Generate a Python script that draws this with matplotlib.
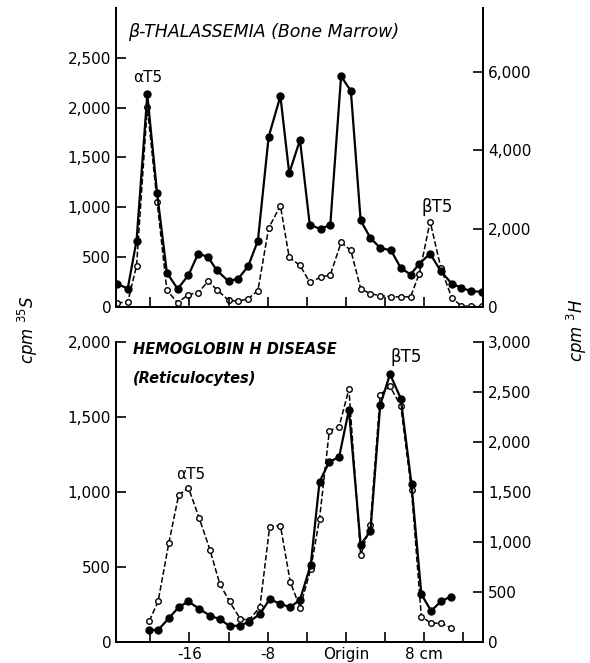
import matplotlib.pyplot as plt
import numpy as np

# positions along the paper (cm from origin)
x_top = [-23.4, -22.3, -21.4, -20.3, -19.3, -18.3, -17.2, -16.1, -15.1, -14.1,
         -13.2, -12.0, -11.0, -10.0, -9.0, -7.9, -6.7, -5.8, -4.7, -3.7,
         -2.6, -1.6, -0.5, 0.5, 1.5, 2.5, 3.5, 4.6, 5.6, 6.6,
         7.5, 8.6, 9.7, 10.8, 11.8, 12.8, 13.9]
s35_top = [232, 185, 665, 2132, 1142, 342, 182, 318, 535, 502,
           368, 258, 285, 408, 665, 1708, 2115, 1342, 1675, 825,
           782, 825, 2315, 2168, 868, 692, 592, 568, 392, 325,
           435, 535, 358, 235, 192, 158, 152]
h3_top = [107, 122, 1054, 5100, 2687, 427, 107, 318, 360, 655,
          445, 173, 147, 208, 419, 2012, 2586, 1265, 1062, 630,
          757, 818, 1646, 1443, 470, 335, 292, 259, 259, 259,
          851, 2180, 996, 241, 20, 20, 20]

x_bot = [-20.1, -19.2, -18.1, -17.1, -16.1, -15.0, -13.9, -12.9, -11.9, -10.8,
         -9.9, -8.8, -7.8, -6.7, -5.7, -4.7, -3.6, -2.7, -1.7, -0.7,
         0.3, 1.5, 2.5, 3.5, 4.5, 5.6, 6.7, 7.7, 8.7, 9.7, 10.7]
s35_bot = [80, 80, 158, 232, 270, 221, 176, 152, 107, 109,
           136, 185, 285, 254, 232, 281, 515, 1069, 1201, 1233,
           1548, 649, 738, 1579, 1786, 1623, 1050, 319, 207, 270, 303]
h3_bot = [210, 405, 990, 1468, 1542, 1240, 922, 582, 405, 231,
          220, 348, 1150, 1164, 604, 344, 729, 1234, 2112, 2154,
          2529, 865, 1174, 2472, 2556, 2361, 1515, 254, 188, 188, 144]

left_top_ticks = [0, 500, 1000, 1500, 2000, 2500]
left_top_labels = ['0', '500', '1,000', '1,500', '2,000', '2,500']
right_top_ticks = [0, 2000, 4000, 6000]
right_top_labels = ['0', '2,000', '4,000', '6,000']
left_bot_ticks = [0, 500, 1000, 1500, 2000]
left_bot_labels = ['0', '500', '1,000', '1,500', '2,000']
right_bot_ticks = [0, 500, 1000, 1500, 2000, 2500, 3000]
right_bot_labels = ['0', '500', '1,000', '1,500', '2,000', '2,500', '3,000']
x_ticks_top = [-20, -16, -12, -8, -4, 0, 4, 8]
x_ticks_bot = [-20, -16, -12, -8, -4, 0, 4, 8, 12]
x_labels_bot = ['', '-16', '', '-8', '', 'Origin', '', '8 cm', '']

fig = plt.figure(figsize=(5.9, 6.63), dpi=100)


def style(ax, axr):
    for a in (ax, axr):
        a.spines['top'].set_visible(False)
        for s in a.spines.values():
            s.set_linewidth(1.3)
        a.tick_params(direction='in', length=7, width=1.2, labelsize=11)
    ax.set_xlim(-23.5, 14.0)


def draw(ax, axr, x, s, h):
    axr.plot(x, h, '--', color='black', lw=1.1, marker='o', ms=4,
             mfc='white', mec='black', mew=1.0, zorder=2)
    ax.plot(x, s, '-', color='black', lw=1.6, marker='o', ms=5,
            mfc='black', mec='black', zorder=3)


# top panel: beta-thalassemia
ax1 = fig.add_axes([0.1966, 0.537, 0.622, 0.451])
ax1r = ax1.twinx()
ax1.set_zorder(ax1r.get_zorder() + 1)
ax1.patch.set_visible(False)
draw(ax1, ax1r, x_top, s35_top, h3_top)
style(ax1, ax1r)
ax1.set_ylim(0, 3000)
ax1r.set_ylim(0, 7630)
ax1.set_yticks(left_top_ticks, left_top_labels)
ax1r.set_yticks(right_top_ticks, right_top_labels)
ax1.set_xticks(x_ticks_top, [''] * len(x_ticks_top))
ax1.text(-20.3, 2300, 'αT5', ha='center', va='center', fontsize=11)
ax1.text(9.3, 1005, 'βT5', ha='center', va='center', fontsize=12)

# bottom panel: hemoglobin H disease
ax2 = fig.add_axes([0.1966, 0.0317, 0.622, 0.4525])
ax2r = ax2.twinx()
ax2.set_zorder(ax2r.get_zorder() + 1)
ax2.patch.set_visible(False)
draw(ax2, ax2r, x_bot, s35_bot, h3_bot)
style(ax2, ax2r)
ax2.set_ylim(0, 2000)
ax2r.set_ylim(0, 3000)
ax2.set_yticks(left_bot_ticks, left_bot_labels)
ax2r.set_yticks(right_bot_ticks, right_bot_labels)
ax2.set_xticks(x_ticks_bot, x_labels_bot)
ax2.text(-15.9, 1117, 'αT5', ha='center', va='center', fontsize=11)
ax2.text(6.2, 1900, 'βT5', ha='center', va='center', fontsize=12)

fig.text(128 / 590, 1 - 32 / 663, 'β-THALASSEMIA (Bone Marrow)', style='italic',
         ha='left', va='center', fontsize=12.5)
fig.text(133 / 590, 1 - 350 / 663, 'HEMOGLOBIN H DISEASE', style='italic',
         weight='bold', ha='left', va='center', fontsize=10.5)
fig.text(133 / 590, 1 - 378 / 663, '(Reticulocytes)', style='italic',
         weight='bold', ha='left', va='center', fontsize=10.5)

fig.text(28 / 590, 1 - 330 / 663, 'cpm $^{35}$S', style='italic', rotation=90,
         ha='center', va='center', fontsize=12)
fig.text(577 / 590, 1 - 330 / 663, 'cpm $^{3}$H', style='italic', rotation=90,
         ha='center', va='center', fontsize=12)

fig.savefig('out.png', dpi=100)
